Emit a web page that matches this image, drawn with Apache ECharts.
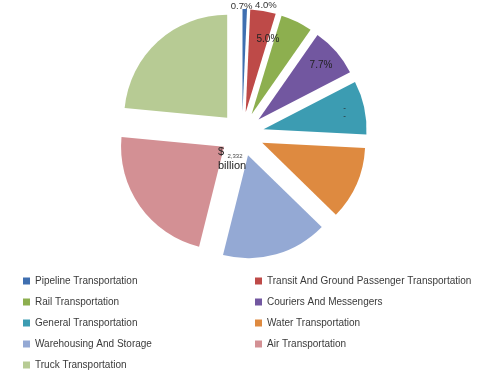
<!DOCTYPE html>
<html><head><meta charset="utf-8">
<script src="https://cdn.jsdelivr.net/npm/echarts@6/dist/echarts.min.js"></script>
<style>html,body{margin:0;padding:0;background:#fff;}#c{width:503px;height:371px;}</style>
</head><body><div id="c"></div>
<script>
const categories = ['Pipeline Transportation','Transit And Ground Passenger Transportation','Rail Transportation','Couriers And Messengers','General Transportation','Water Transportation','Warehousing And Storage','Air Transportation','Truck Transportation'];
const shares = [0.7, 4.0, 5.0, 7.7, 8.4, 11.5, 16.6, 22.6, 23.5];
const colors = ['#3F6FB0','#BE4A48','#8DAF4F','#7257A0','#3C9CB2','#DE8A40','#94A9D4','#D39094','#B7CB94'];
const edgeLabelIdx = [0];
const outerLabelIdx = [1];
const innerLabelIdx = [2, 3, 4];
const hiddenLabelIdx = [4];
const centerTitle = ['$', '2,332', 'billion'];

const FONT = "'Liberation Sans', Arial, sans-serif";
const OFFSET = 22;
const CENTER = [242, 134];

function fmt(v){ return v.toFixed(1) + '%'; }

const mainData = categories.map((n,i)=>({name:n, value:shares[i], selected:true, itemStyle:{color:colors[i]}}));
function overlayData(idxList, extra){
  return categories.map((n,i)=>({
    name:n, value:shares[i], selected:true,
    itemStyle:{color:'rgba(0,0,0,0)', borderWidth:0},
    label:{show: idxList.indexOf(i) >= 0, ...(extra && extra(i))}
  }));
}

const chart = echarts.init(document.getElementById('c'), null, {renderer:'canvas'});
chart.setOption({
  animation:false,
  color: colors,
  legend:{
    orient:'horizontal', left:23, top:276, width:470, padding:0, itemWidth:7, itemHeight:7, itemGap:11, icon:'rect',
    selectedMode:false,
    textStyle:{fontFamily:FONT, fontSize:10, color:'#3a3a3a', lineHeight:8, width:209},
    data:categories
  },
  graphic:[{
    type:'text', left:218, top:146, z:100, silent:true,
    style:{
      text:'{a|' + centerTitle[0] + '} {b|' + centerTitle[1] + '}\n{a|' + centerTitle[2] + '}',
      rich:{
        a:{fontFamily:FONT, fontSize:11, fill:'#222', lineHeight:14},
        b:{fontFamily:FONT, fontSize:6, fill:'#444', lineHeight:14, verticalAlign:'bottom'}
      }
    }
  }],
  series:[
    {type:'pie', center:CENTER, radius:[0,103], selectedMode:'multiple', selectedOffset:OFFSET,
     silent:true, avoidLabelOverlap:false, label:{show:false}, labelLine:{show:false},
     itemStyle:{borderWidth:0}, emphasis:{disabled:true}, data:mainData},
    {type:'pie', center:CENTER, radius:[0,160], selectedMode:'multiple', selectedOffset:OFFSET,
     silent:true, avoidLabelOverlap:false, labelLine:{show:false}, emphasis:{disabled:true},
     label:{position:'inside', fontFamily:FONT, fontSize:10, color:'#222',
       formatter:p=> hiddenLabelIdx.indexOf(p.dataIndex)>=0 ? '-\n-' : fmt(p.value)},
     data:overlayData(innerLabelIdx, i=> i===2 ? {padding:[0,40,0,0]} : (i===4 ? {fontSize:8, lineHeight:8} : {}))},
    {type:'pie', center:CENTER, radius:[0,210], selectedMode:'multiple', selectedOffset:OFFSET,
     silent:true, avoidLabelOverlap:false, labelLine:{show:false}, emphasis:{disabled:true},
     label:{position:'inside', fontFamily:FONT, fontSize:9.5, color:'#333', padding:[0,0,0,4], formatter:p=>fmt(p.value)},
     data:overlayData(outerLabelIdx)},
    {type:'pie', center:CENTER, radius:[0,103], selectedMode:'multiple', selectedOffset:OFFSET,
     silent:true, avoidLabelOverlap:false, emphasis:{disabled:true},
     labelLine:{show:false, length:0, length2:0},
     label:{position:'outside', distanceToLabelLine:0, fontFamily:FONT, fontSize:9.5, color:'#333', formatter:p=>fmt(p.value)},
     labelLayout:p=> edgeLabelIdx.indexOf(p.dataIndex)>=0 ? {dx:-14, dy:-3} : {},
     data:overlayData(edgeLabelIdx)}
  ]
});
</script></body></html>
